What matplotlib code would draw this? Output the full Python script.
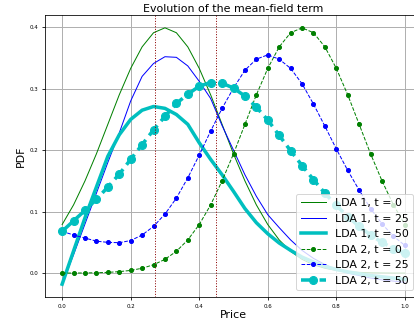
import numpy as np
import matplotlib
matplotlib.use('Agg')
import matplotlib.pyplot as plt

# price grid (31 points)
price = np.linspace(0.0, 1.0, 31)

lda1_t0 = [0.079, 0.111, 0.150, 0.194, 0.242, 0.290, 0.333, 0.368, 0.391, 0.399,
           0.391, 0.368, 0.333, 0.290, 0.242, 0.194, 0.150, 0.111, 0.079, 0.054,
           0.0355, 0.0224, 0.0136, 0.0079, 0.0044, 0.0024, 0.0012, 0.0006, 0.0003, 0.0001, 0.0001]
lda1_t25 = [-0.018, 0.030, 0.080, 0.130, 0.180, 0.228, 0.280, 0.320, 0.341, 0.352,
            0.351, 0.337, 0.312, 0.284, 0.240, 0.200, 0.160, 0.125, 0.095, 0.074,
            0.054, 0.037, 0.024, 0.014, 0.006, 0.000, -0.004, -0.008, -0.011, -0.013, -0.015]
lda1_t50 = [-0.018, 0.036, 0.090, 0.140, 0.190, 0.225, 0.250, 0.265, 0.271, 0.268,
            0.258, 0.242, 0.212, 0.185, 0.160, 0.133, 0.105, 0.082, 0.064, 0.049,
            0.037, 0.026, 0.018, 0.011, 0.006, 0.002, -0.001, -0.004, -0.006, -0.008, -0.010]

lda2_t0 = lda1_t0[::-1]
lda2_t25 = [0.068, 0.062, 0.057, 0.052, 0.050, 0.0495, 0.053, 0.062, 0.076, 0.096,
            0.122, 0.155, 0.192, 0.231, 0.268, 0.301, 0.330, 0.348, 0.355, 0.348,
            0.333, 0.308, 0.275, 0.239, 0.202, 0.167, 0.135, 0.105, 0.080, 0.060, 0.045]
lda2_t50 = [0.068, 0.085, 0.102, 0.120, 0.140, 0.161, 0.185, 0.209, 0.233, 0.255,
            0.276, 0.291, 0.304, 0.310, 0.309, 0.301, 0.288, 0.270, 0.249, 0.224,
            0.199, 0.175, 0.152, 0.130, 0.110, 0.092, 0.076, 0.062, 0.050, 0.040, 0.032]

vlines = [0.27, 0.45]

fig = plt.figure(figsize=(414/72, 320/72), dpi=72)
ax = fig.add_axes([45/414, 23/320, 377/414, 282/320])

ax.plot(price, lda1_t0, '-', color='g', lw=1, label='LDA 1, t = 0')
ax.plot(price, lda1_t25, '-', color='b', lw=1, label='LDA 1, t = 25')
ax.plot(price, lda1_t50, '-', color='c', lw=3.5, label='LDA 1, t = 50')
ax.plot(price, lda2_t0, '--', color='g', lw=1, marker='o', ms=4, label='LDA 2, t = 0')
ax.plot(price, lda2_t25, '--', color='b', lw=1, marker='o', ms=4, label='LDA 2, t = 25')
ax.plot(price, lda2_t50, '--', color='c', lw=3.5, marker='o', ms=8, label='LDA 2, t = 50')

for v in vlines:
    ax.axvline(v, color='darkred', ls=':', lw=1)

ax.set_xticks([0.0, 0.2, 0.4, 0.6, 0.8, 1.0])
ax.set_yticks([0.0, 0.1, 0.2, 0.3, 0.4])
ax.tick_params(labelsize=5.5, length=3)
ax.grid(True, color='#b0b0b0', lw=1)
ax.set_title('Evolution of the mean-field term', fontsize=11, pad=3)
ax.set_xlabel('Price', fontsize=11, labelpad=2)
ax.set_ylabel('PDF', fontsize=11)

ax.legend(loc='lower right', bbox_to_anchor=(413/414, 30/320),
          bbox_transform=fig.transFigure, borderaxespad=0, fontsize=11,
          handlelength=2.3)

fig.savefig('out.png', dpi=72)
